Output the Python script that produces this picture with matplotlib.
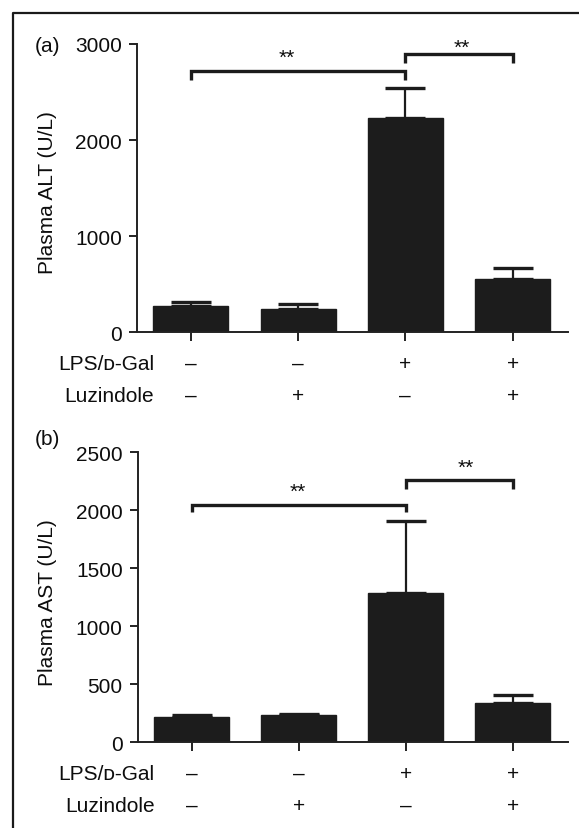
import matplotlib
matplotlib.use("Agg")
import matplotlib.pyplot as plt
from matplotlib.lines import Line2D
from matplotlib import transforms

plt.rcParams['font.family'] = ['Liberation Sans', 'DejaVu Sans']

# ---- data ----
groups = [0, 1, 2, 3]
lps_row = ['\u2013', '\u2013', '+', '+']
luz_row = ['\u2013', '+', '\u2013', '+']
alt_mean = [270, 243, 2230, 555]
alt_err = [42, 48, 316, 111]
ast_mean = [215, 232, 1290, 336]
ast_err = [21, 15, 621, 72]
alt_ticks = [0, 1000, 2000, 3000]
ast_ticks = [0, 500, 1000, 1500, 2000, 2500]
# brackets: (x1, x2, top, end)
alt_brackets = [(0, 2, 2723, 2622), (2, 3, 2896, 2800)]
alt_stars = [(0.895, 2799), (2.53, 2903)]
ast_brackets = [(0, 2, 2048, 1983), (2, 3, 2261, 2184)]
ast_stars = [(0.99, 2112), (2.565, 2319)]

W, H = 579, 829
fig = plt.figure(figsize=(W / 100, H / 100), dpi=100)
FS = 15
BAR = '#1c1c1c'
TXT = '#0d0d0d'


def px_box(l, r, top, bot):
    return [l / W, 1 - bot / H, (r - l) / W, (bot - top) / H]


def panel(ax, means, errs, ticks, ymax, ylabel, letter, brackets, stars,
          zero_px, label_y_px, letter_y_px):
    ax.bar(groups, means, width=0.70, color=BAR, edgecolor=BAR, linewidth=1, zorder=2)
    ax.errorbar(groups, means, yerr=[[0] * 4, errs], fmt='none', ecolor=BAR,
                elinewidth=1.6, capsize=14.2, capthick=2.4, zorder=1)
    ax.set_xlim(-0.50, 3.514)
    ax.set_ylim(0, ymax)
    ax.set_yticks(ticks)
    ax.set_yticklabels([str(t) for t in ticks], fontsize=FS)
    ax.set_xticks(groups)
    ax.set_xticklabels([])
    for s in ['top', 'right']:
        ax.spines[s].set_visible(False)
    for s in ['left', 'bottom']:
        ax.spines[s].set_linewidth(1.4)
        ax.spines[s].set_color('#222222')
    ax.tick_params(axis='y', length=6, width=1.4, pad=5, colors='#222222',
                   labelcolor=TXT)
    ax.tick_params(axis='x', length=6.5, width=1.4, direction='out', colors='#222222')
    for (x1, x2, top, end) in brackets:
        ax.plot([x1, x1, x2, x2], [end, top, top, end], color=BAR, lw=2.4,
                clip_on=False, solid_joinstyle='miter', solid_capstyle='butt')
    for (sx, sy) in stars:
        ax.text(sx, sy, '**', ha='center', va='baseline', fontsize=FS, color=TXT)
    # condition rows
    tr = transforms.blended_transform_factory(ax.transData, fig.transFigure)
    lps_y = 1 - (zero_px + 36.7) / H
    luz_y = 1 - (zero_px + 68.4) / H
    ax.text(-0.345, lps_y, 'LPS/\u1d05-Gal', transform=tr, ha='right', va='baseline',
            fontsize=FS, color=TXT)
    ax.text(-0.345, luz_y, 'Luzindole', transform=tr, ha='right', va='baseline',
            fontsize=FS, color=TXT)
    for g, a, b in zip(groups, lps_row, luz_row):
        ax.text(g, lps_y, a, transform=tr, ha='center', va='baseline', fontsize=FS,
                color=TXT)
        ax.text(g, luz_y, b, transform=tr, ha='center', va='baseline', fontsize=FS,
                color=TXT)
    fig.text(48 / W, 1 - label_y_px / H, ylabel, rotation=90, ha='center', va='center',
             fontsize=FS, color=TXT)
    fig.text(35 / W, 1 - letter_y_px / H, letter, ha='left', va='center',
             fontsize=FS, color=TXT)


ax1 = fig.add_axes(px_box(137.3, 567.7, 45, 333.3))
panel(ax1, alt_mean, alt_err, alt_ticks, 3000, 'Plasma ALT (U/L)', '(a)',
      alt_brackets, alt_stars, 333.3, 193, 46)

ax2 = fig.add_axes(px_box(138, 567.7, 453.3, 743.3))
panel(ax2, ast_mean, ast_err, ast_ticks, 2500, 'Plasma AST (U/L)', '(b)',
      ast_brackets, ast_stars, 743.3, 603, 440)

# frame lines (top and left)
fig.add_artist(Line2D([12.7 / W, 12.7 / W, 1.0], [0.0, 1 - 14 / H, 1 - 14 / H],
                      transform=fig.transFigure, color='#1a1a1a', lw=1.6))

fig.savefig('out.png', dpi=100)
